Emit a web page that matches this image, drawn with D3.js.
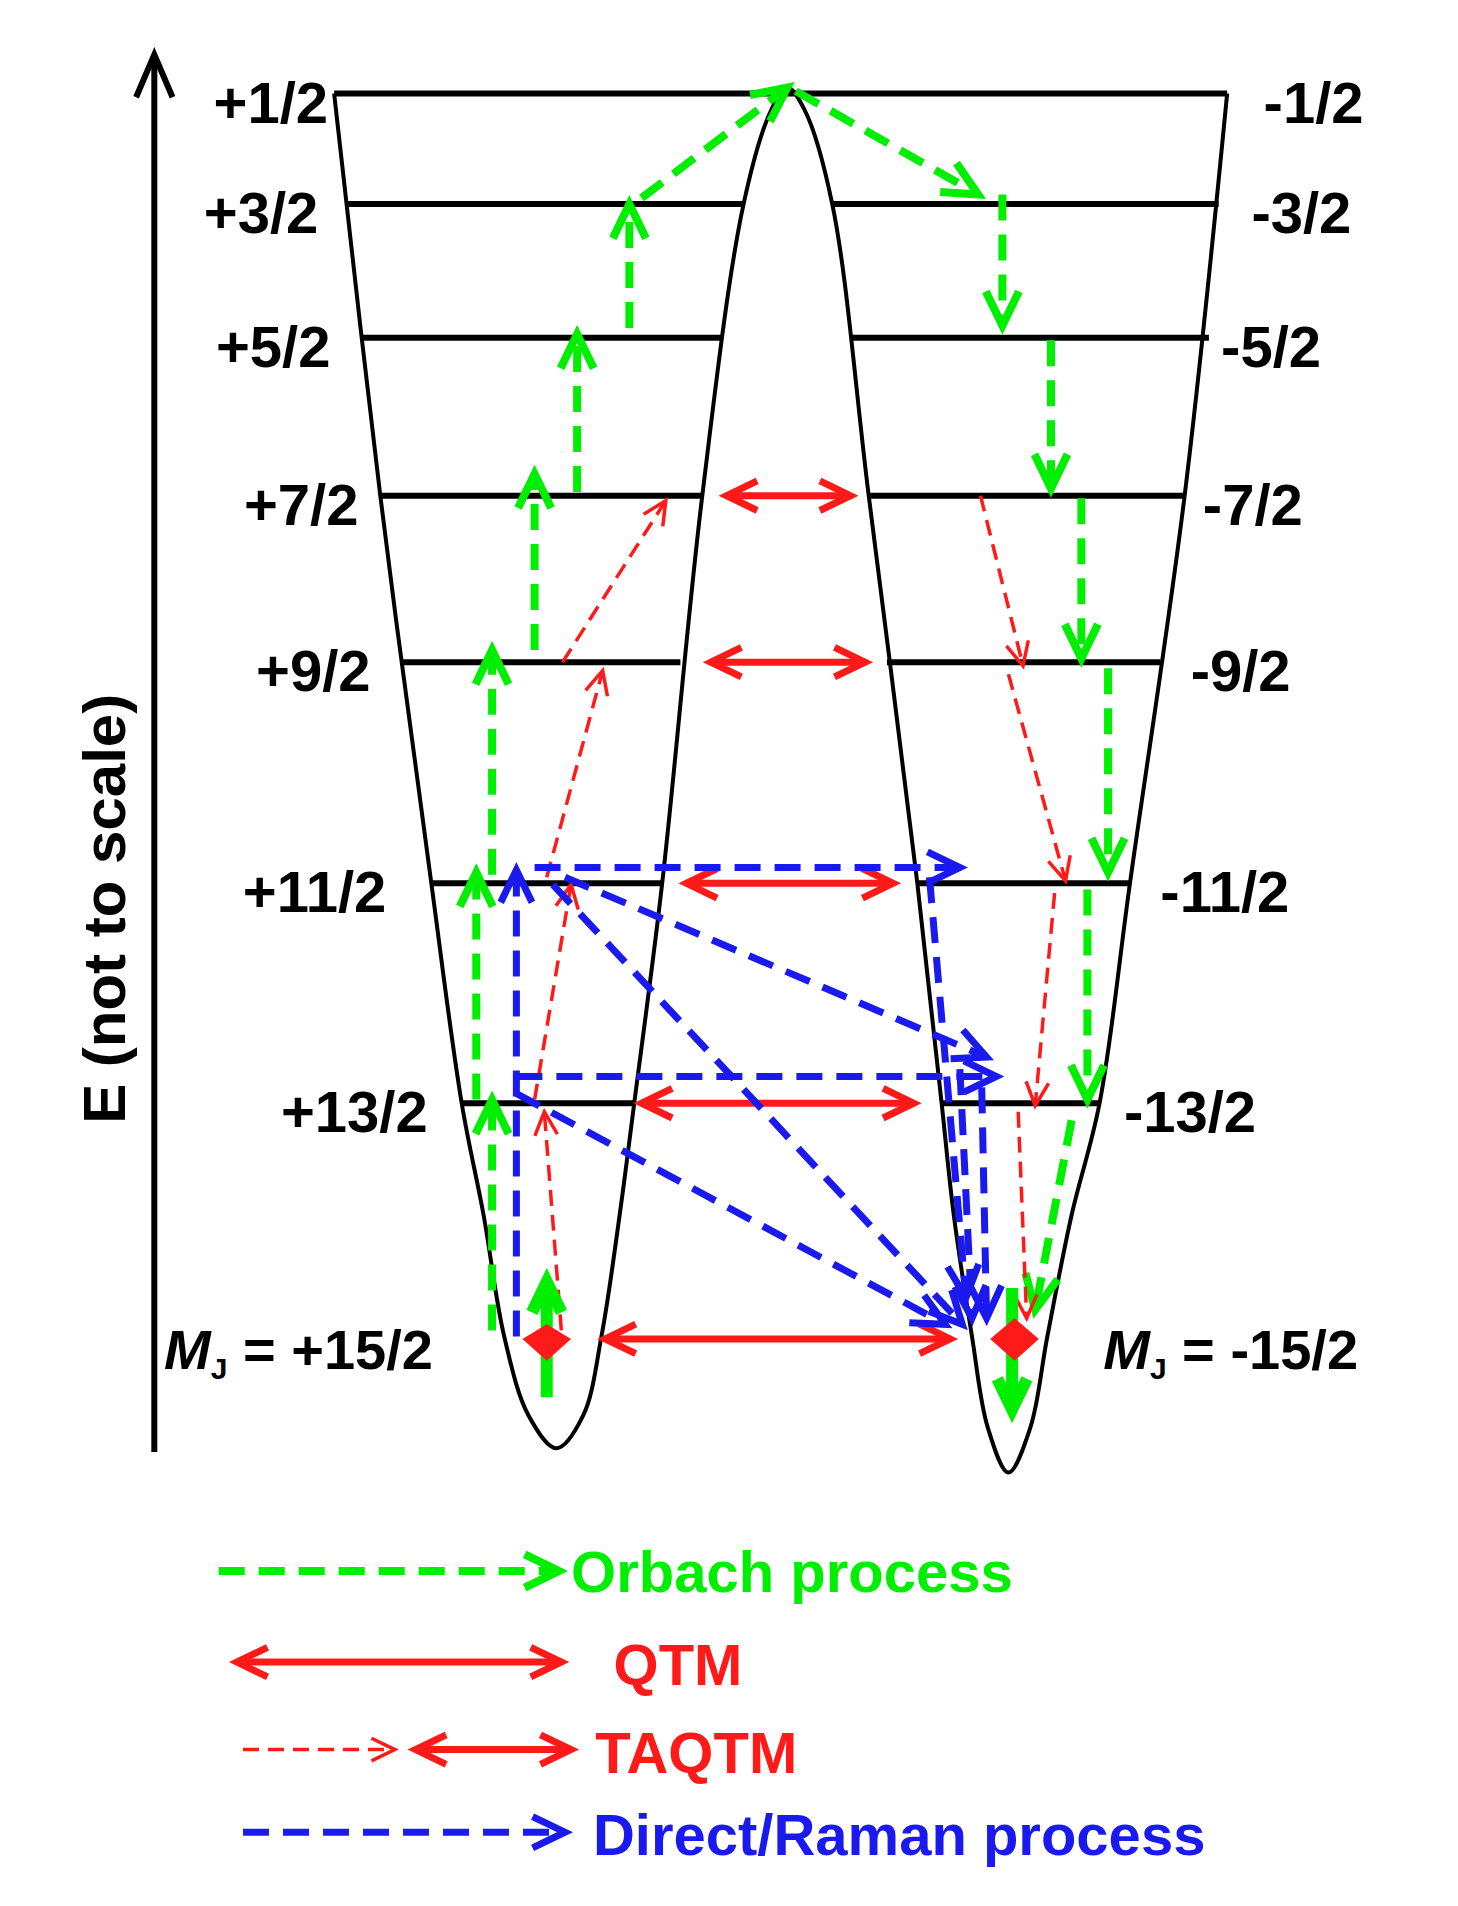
<!DOCTYPE html><html><head><meta charset="utf-8">
<script src="https://cdn.jsdelivr.net/npm/d3@7"></script>
<style>body{margin:0;background:#fff}</style></head><body><svg id="c" width="1458" height="1906"></svg>
<script>
const levelsLeft=["+1/2","+3/2","+5/2","+7/2","+9/2","+11/2","+13/2"];
const levelsRight=["-1/2","-3/2","-5/2","-7/2","-9/2","-11/2","-13/2"];
const levelY=[77,168,278,408,545,727,908];
const leftOuter=[275,285,298,313,330,355,380];
const leftInner=[648,612,595,578,560,545,522];
const rightInner=[648,685,700,715,730,755,775];
const rightOuter=[1010,1003,995,975,955,930,905];
const leftLabelX=[270,262,272,295,305,318,352];
const rightLabelX=[1040,1030,1005,990,980,955,925];
const orbach=[[405,1095,405,905],[392,905,392,718],[405,720,405,535],[440,535,440,390],[475,405,475,275],[518,270,518,168],[528,163,648,72],[655,75,805,160],[825,160,825,268],[865,280,865,402],[890,410,890,542],[912,550,912,718],[895,732,895,905],[882,922,852,1078]];
const qtm=[[598,408,700,408],[585,545,712,545],[565,727,735,727],[528,908,752,908],[498,1102,782,1102]];
const taqtm=[[463,545,548,412],[450,722,496,552],[440,905,470,728],[462,1095,448,915],[807,408,842,548],[830,555,877,725],[868,735,852,910],[838,915,845,1085]];
const raman=[[440,714,790,714],[465,722,812,870],[455,728,792,1090],[425,886,820,886],[425,900,778,1090],[425,1100,425,716],[765,722,795,1068],[790,880,800,1085],[808,895,812,1085]];
const k=1.215;
const sx=d3.scaleLinear().domain([0,1200]).range([0,1200*k]);
const sy=d3.scaleLinear().domain([0,1569]).range([0,1569*k]);
const svg=d3.select("#c");
const G="#00ee00",R="#ff1a1a",B="#1a1aee";
const FONT="Liberation Sans Narrow, Liberation Sans";
svg.append("line").attr("x1",sx(127)).attr("y1",sy(1195)).attr("x2",sx(127)).attr("y2",sy(50)).attr("stroke","#000").attr("stroke-width",6);
svg.append("path").attr("d",`M${sx(112)},${sy(80)}L${sx(127)},${sy(45)}L${sx(142)},${sy(80)}`).attr("fill","none").attr("stroke","#000").attr("stroke-width",6);
svg.append("text").attr("transform",`translate(${sx(103)},${sy(748)}) rotate(-90)`).attr("text-anchor","middle")
 .attr("font-family","Liberation Sans").attr("font-weight","bold").attr("font-size",60).text("E (not to scale)");
const line=d3.line().x(d=>sx(d[0])).y(d=>sy(d[1])).curve(d3.curveCatmullRom);
const lw=[[275,77],[313,408],[355,727],[380,908],[398,1000],[415,1100],[435,1165],[458,1192],[480,1165],[495,1100],[510,1000],[522,908],[545,727],[578,408],[612,168],[635,90],[648,72],[662,90],[685,168],[715,408],[755,727],[775,908],[785,1000],[800,1100],[813,1175],[830,1212],[848,1175],[862,1100],[882,1000],[905,908],[930,727],[975,408],[1010,77]];
svg.append("path").attr("d",line(lw)).attr("fill","none").attr("stroke","#000").attr("stroke-width",4);
svg.append("line").attr("x1",sx(275)).attr("x2",sx(1010)).attr("y1",sy(77)).attr("y2",sy(77)).attr("stroke","#000").attr("stroke-width",6);
const txt=(x,y,s,anchor,col,size,fam)=>svg.append("text").attr("x",sx(x)).attr("y",sy(y)).attr("text-anchor",anchor||"start").attr("fill",col||"#000")
 .attr("font-family",fam||FONT).attr("font-weight","bold").attr("font-size",size||58).text(s);
levelY.forEach((y,i)=>{
 if(i>0){
  svg.append("line").attr("x1",sx(leftOuter[i])).attr("x2",sx(leftInner[i])).attr("y1",sy(y)).attr("y2",sy(y)).attr("stroke","#000").attr("stroke-width",6);
  svg.append("line").attr("x1",sx(rightInner[i])).attr("x2",sx(rightOuter[i])).attr("y1",sy(y)).attr("y2",sy(y)).attr("stroke","#000").attr("stroke-width",6);
 }
 txt(leftLabelX[i],y+24,levelsLeft[i],"end");
 txt(rightLabelX[i],y+24,levelsRight[i],"start");
});
function mj(x,y,v){const t=svg.append("text").attr("x",sx(x)).attr("y",sy(y)).attr("font-family",FONT).attr("font-weight","bold").attr("font-size",56);
 t.append("tspan").attr("font-style","italic").text("M");t.append("tspan").attr("font-size",30).attr("dy",10).text("J");t.append("tspan").attr("dy",-10).text(" = "+v);}
mj(135,1127,"+15/2");mj(908,1127,"-15/2");
function head(x1,y1,x2,y2,len,ang,col,w){
 const a=Math.atan2(y2-y1,x2-x1);
 const p=[[x2-len*Math.cos(a-ang),y2-len*Math.sin(a-ang)],[x2,y2],[x2-len*Math.cos(a+ang),y2-len*Math.sin(a+ang)]];
 svg.append("path").attr("d",`M${p[0]}L${p[1]}L${p[2]}`).attr("fill","none").attr("stroke",col).attr("stroke-width",w);
}
function arrow(a,col,w,dash,len,dbl){
 const [x1,y1,x2,y2]=[sx(a[0]),sy(a[1]),sx(a[2]),sy(a[3])];
 svg.append("line").attr("x1",x1).attr("y1",y1).attr("x2",x2).attr("y2",y2).attr("stroke",col).attr("stroke-width",w).attr("stroke-dasharray",dash||null);
 head(x1,y1,x2,y2,len,0.45,col,w);
 if(dbl)head(x2,y2,x1,y1,len,0.45,col,w);
}
orbach.forEach(a=>arrow(a,G,8,"26,14",38));
qtm.forEach(a=>arrow(a,R,7,null,34,true));
taqtm.forEach(a=>arrow(a,R,3.5,"16,9",26));
raman.forEach(a=>arrow(a,B,7,"26,14",36));
arrow([450,1150,450,1055],G,12,null,34);
arrow([833,1060,833,1160],G,12,null,34);
svg.append("path").attr("d",`M${sx(430)},${sy(1102)}L${sx(450)},${sy(1090)}L${sx(470)},${sy(1102)}L${sx(450)},${sy(1120)}Z`).attr("fill",R);
svg.append("path").attr("d",`M${sx(815)},${sy(1102)}L${sx(835)},${sy(1085)}L${sx(855)},${sy(1102)}L${sx(835)},${sy(1120)}Z`).attr("fill",R);
arrow([180,1293,460,1293],G,8,"26,14",38);txt(470,1310,"Orbach process","start",G,58,"Liberation Sans");
arrow([195,1368,462,1368],R,7,null,34,true);txt(505,1387,"QTM","start",R,58,"Liberation Sans");
arrow([200,1440,325,1440],R,3.5,"16,9",26);arrow([342,1440,470,1440],R,7,null,34,true);txt(490,1459,"TAQTM","start",R,58,"Liberation Sans");
arrow([200,1508,465,1508],B,7,"26,14",36);txt(488,1527,"Direct/Raman process","start",B,58,"Liberation Sans");
</script></body></html>
